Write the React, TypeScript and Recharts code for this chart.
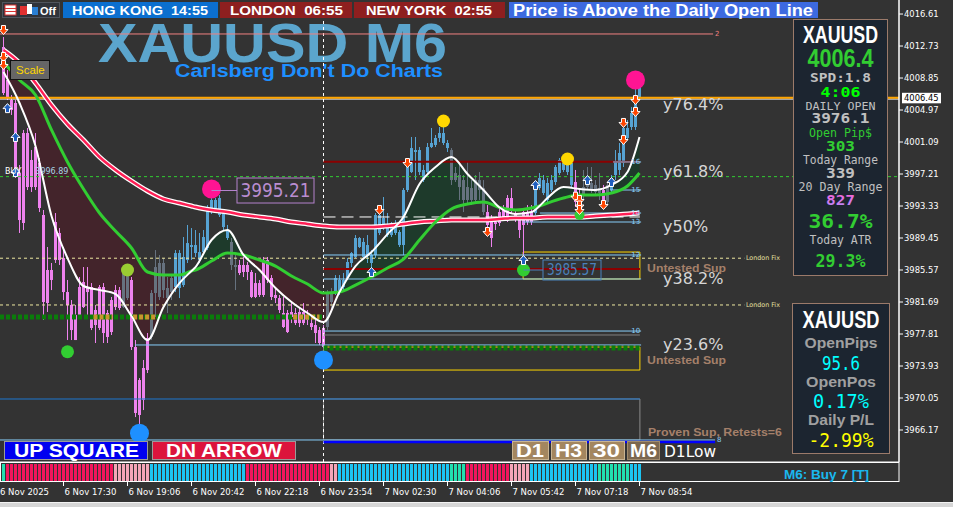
import React from 'react';
import {
  ComposedChart, BarChart, Bar, Line, Area, XAxis, YAxis,
  ReferenceLine, ReferenceDot, ReferenceArea, Cell,
} from 'recharts';

// XAUUSD M6, 160 bars: [open, high, low, close]
const ohlc: number[][] = [
  [4012.61, 4013.82, 4006.79, 4007.03], [4008.61, 4009.82, 4006.18, 4006.55], [4006.18, 4006.79, 4004.37, 4004.97], [4005.82, 4006.18, 3996.73, 3997.09],
  [3997.33, 3998.30, 3990.06, 3991.63], [3991.27, 4002.55, 3990.42, 4002.18], [4002.18, 4002.79, 3995.27, 3995.63], [3995.63, 4000.12, 3995.03, 3998.91],
  [4000.48, 4002.18, 3995.27, 3995.63], [3998.54, 3999.15, 3992.60, 3993.09], [3992.24, 3992.85, 3979.51, 3981.69], [3981.57, 3988.36, 3980.48, 3985.57],
  [3985.57, 3986.42, 3983.14, 3984.36], [3986.78, 3992.48, 3986.42, 3991.39], [3990.06, 3990.66, 3986.18, 3986.78], [3987.02, 3988.36, 3981.93, 3982.90],
  [3982.90, 3984.36, 3977.08, 3981.33], [3981.33, 3981.93, 3977.08, 3978.29], [3977.08, 3981.33, 3977.08, 3980.11], [3980.11, 3984.72, 3979.87, 3983.51],
  [3984.11, 3985.93, 3980.96, 3981.08], [3982.90, 3985.93, 3979.87, 3983.39], [3983.51, 3983.99, 3978.29, 3978.54], [3978.90, 3981.33, 3976.72, 3980.72],
  [3978.54, 3983.75, 3978.29, 3983.51], [3983.51, 3983.99, 3976.72, 3977.93], [3977.45, 3980.72, 3976.72, 3980.36], [3978.05, 3982.30, 3977.69, 3981.93],
  [3981.08, 3983.75, 3980.72, 3983.14], [3983.14, 3983.51, 3980.72, 3980.96], [3981.08, 3986.18, 3980.96, 3985.21], [3985.21, 3985.93, 3981.93, 3982.17],
  [3984.36, 3984.72, 3975.87, 3976.23], [3976.23, 3977.08, 3967.74, 3968.23], [3972.23, 3972.47, 3966.41, 3967.99], [3969.81, 3974.66, 3968.59, 3973.69],
  [3973.44, 3977.93, 3973.08, 3977.32], [3977.45, 3983.14, 3977.08, 3982.78], [3982.78, 3987.99, 3979.87, 3985.93], [3986.42, 3987.39, 3981.93, 3982.30],
  [3983.14, 3987.02, 3982.17, 3986.42], [3983.39, 3984.72, 3980.36, 3982.17], [3982.90, 3984.96, 3981.93, 3984.60], [3983.51, 3987.99, 3982.90, 3987.63],
  [3987.63, 3987.99, 3982.17, 3983.39], [3987.15, 3989.57, 3983.51, 3983.75], [3986.78, 3991.03, 3986.42, 3988.84], [3988.36, 3990.66, 3986.78, 3988.60],
  [3988.60, 3990.42, 3987.15, 3987.63], [3987.75, 3990.06, 3986.42, 3986.78], [3987.75, 3990.42, 3987.39, 3989.57], [3988.24, 3993.45, 3987.99, 3992.85],
  [3992.60, 3995.21, 3992.36, 3994.06], [3994.06, 3994.30, 3992.60, 3992.85], [3994.30, 3994.66, 3992.00, 3992.24], [3992.48, 3992.85, 3990.42, 3990.78],
  [3990.42, 3991.03, 3989.21, 3989.45], [3988.97, 3989.45, 3985.57, 3986.18], [3986.18, 3987.39, 3983.14, 3985.93], [3985.21, 3986.78, 3984.96, 3986.18],
  [3986.18, 3987.15, 3984.72, 3985.33], [3985.33, 3986.54, 3984.36, 3986.18], [3985.33, 3985.57, 3982.17, 3982.30], [3982.30, 3985.21, 3982.17, 3983.99],
  [3983.99, 3984.36, 3982.30, 3982.54], [3982.54, 3987.15, 3982.30, 3986.78], [3986.78, 3987.15, 3983.99, 3984.36], [3984.60, 3984.96, 3981.93, 3982.30],
  [3982.54, 3983.51, 3981.57, 3982.17], [3982.17, 3982.54, 3980.36, 3980.72], [3980.36, 3982.30, 3978.54, 3978.66], [3978.05, 3980.72, 3977.93, 3980.36],
  [3980.48, 3981.57, 3979.14, 3979.87], [3979.14, 3980.96, 3978.90, 3980.36], [3980.48, 3981.08, 3978.66, 3979.14], [3979.14, 3981.57, 3978.90, 3980.48],
  [3979.87, 3980.72, 3978.90, 3979.51], [3979.14, 3979.75, 3978.29, 3978.66], [3978.90, 3979.51, 3976.72, 3977.93], [3978.29, 3978.66, 3976.48, 3976.72],
  [3978.54, 3978.90, 3975.87, 3976.23], [3978.66, 3983.14, 3978.29, 3982.78], [3981.69, 3983.39, 3980.72, 3982.90], [3982.90, 3984.96, 3982.54, 3984.60],
  [3984.36, 3984.96, 3982.54, 3982.90], [3983.51, 3985.21, 3983.14, 3984.36], [3984.60, 3987.02, 3984.36, 3986.54], [3986.42, 3987.75, 3985.93, 3987.63],
  [3987.15, 3989.81, 3987.02, 3989.45], [3989.45, 3989.57, 3988.24, 3988.36], [3988.97, 3989.45, 3987.02, 3987.15], [3987.39, 3989.81, 3986.42, 3988.60],
  [3987.39, 3987.99, 3985.33, 3986.42], [3987.39, 3992.48, 3987.02, 3992.24], [3992.24, 3992.85, 3989.81, 3990.06], [3991.03, 3994.42, 3990.42, 3991.88],
  [3991.03, 3992.48, 3989.57, 3989.81], [3989.81, 3991.39, 3989.57, 3991.27], [3991.27, 3991.63, 3989.81, 3990.06], [3990.18, 3990.42, 3988.36, 3988.60],
  [3988.60, 3995.51, 3987.39, 3995.27], [3995.27, 3998.54, 3995.03, 3998.06], [3997.45, 4001.70, 3997.33, 4000.36], [4000.12, 4001.70, 3996.48, 3999.88],
  [4000.12, 4000.48, 3997.09, 3997.45], [3997.70, 3998.30, 3996.24, 3996.48], [3997.45, 4000.97, 3997.09, 4000.48], [4000.48, 4002.79, 4000.36, 4000.97],
  [4000.73, 4001.94, 4000.48, 4001.58], [4001.58, 4002.91, 4001.09, 4002.18], [4002.18, 4003.52, 4000.73, 4000.97], [4000.97, 4001.33, 3999.88, 4000.36],
  [4000.12, 4000.36, 3995.88, 3996.48], [3997.33, 3998.06, 3996.24, 3996.48], [3995.63, 3998.67, 3994.06, 3997.09], [3996.48, 3997.09, 3992.60, 3994.06],
  [3994.06, 3998.67, 3993.69, 3995.63], [3995.51, 3996.48, 3993.45, 3994.06], [3994.06, 3997.09, 3993.82, 3996.48], [3996.48, 3997.45, 3994.06, 3995.27],
  [3995.51, 3996.48, 3992.24, 3992.60], [3992.60, 3993.45, 3990.42, 3991.03], [3991.63, 3992.24, 3988.36, 3989.45], [3991.15, 3992.00, 3990.42, 3991.39],
  [3991.27, 3993.09, 3990.91, 3992.60], [3992.00, 3993.45, 3991.63, 3992.85], [3991.63, 3994.66, 3991.39, 3994.30], [3994.30, 3995.51, 3992.48, 3992.85],
  [3992.48, 3992.85, 3991.39, 3991.63], [3991.63, 3992.00, 3989.45, 3990.42], [3991.03, 3992.85, 3985.57, 3992.60], [3992.48, 3993.45, 3991.03, 3991.39],
  [3991.39, 3993.45, 3991.03, 3992.60], [3992.48, 3995.88, 3992.24, 3995.63], [3995.51, 3997.33, 3995.27, 3996.73], [3996.48, 3997.09, 3994.66, 3994.91],
  [3994.06, 3996.73, 3993.82, 3996.12], [3995.27, 3997.09, 3995.03, 3996.48], [3996.24, 3998.30, 3995.88, 3998.06], [3997.33, 3999.15, 3997.09, 3998.91],
  [3998.67, 3999.27, 3997.45, 3997.70], [3997.45, 3999.15, 3997.09, 3998.91], [3998.54, 3998.91, 3995.63, 3995.88], [3996.24, 3997.70, 3993.21, 3993.82],
  [3993.69, 3995.27, 3993.45, 3994.66], [3994.66, 3997.70, 3994.06, 3995.63], [3995.63, 3998.06, 3995.27, 3996.24], [3996.12, 3998.06, 3994.91, 3995.27],
  [3995.88, 3996.48, 3994.66, 3995.03], [3994.91, 3997.33, 3994.06, 3995.51], [3995.27, 3995.88, 3993.09, 3993.69], [3993.82, 3996.24, 3993.45, 3995.88],
  [3995.27, 3997.09, 3995.03, 3996.73], [3997.09, 4000.12, 3996.48, 3998.67], [3997.70, 4000.97, 3997.09, 3999.76], [3998.54, 4002.91, 3998.06, 4002.79],
  [4001.58, 4003.76, 4001.33, 4002.79], [4002.91, 4005.34, 4002.55, 4004.61], [4002.91, 4007.64, 4002.55, 4006.55], [4008.00, 4008.37, 4006.18, 4006.45],
];

// candle colour by trend state: p = bear, b = bull, g = neutral
const candleColorRuns: [string, number][] = [
  ['p', 30], ['g', 2], ['p', 5], ['g', 6], ['b', 14], ['g', 2], ['p', 22], ['g', 2], ['b', 29],
  ['g', 9], ['p', 12], ['b', 10], ['p', 2], ['g', 5], ['p', 1], ['g', 1], ['b', 8],
];

// bottom signal strip
const stripeRuns: [string, number][] = [
  ['t', 1], ['r', 27], ['l', 9], ['c', 24], ['r', 21], ['l', 2], ['c', 28], ['t', 4], ['r', 11], ['l', 5], ['c', 17], ['t', 8], ['c', 3],
];

// moving averages
const maIdx = [0, 4, 8, 12, 16, 20, 24, 28, 32, 36, 40, 44, 47, 48, 52, 56, 60, 64, 68, 72, 76, 80, 84, 88, 92, 96, 100, 104, 108, 112, 116, 120, 124, 128, 132, 134, 136, 140, 144, 148, 152, 156, 159];
const maWhite = [4009.58, 4005.82, 4000.61, 3992.12, 3987.02, 3983.63, 3983.14, 3982.66, 3979.99, 3977.08, 3981.08, 3983.99, 3985.45, 3985.93, 3989.21, 3990.42, 3987.39, 3985.57, 3983.39, 3981.69, 3980.36, 3979.26, 3982.90, 3986.05, 3987.75, 3989.93, 3992.00, 3996.00, 3998.06, 3999.27, 3997.21, 3995.27, 3993.15, 3992.36, 3992.60, 3993.33, 3994.30, 3995.63, 3995.39, 3995.27, 3995.88, 3997.45, 4001.70];
const maGreen = [4010.79, 4008.61, 4006.79, 4002.55, 3998.67, 3995.39, 3992.48, 3990.30, 3988.24, 3985.33, 3984.96, 3984.96, 3985.45, 3985.57, 3986.66, 3987.63, 3987.39, 3986.78, 3986.05, 3984.84, 3983.87, 3982.78, 3982.90, 3983.75, 3984.72, 3985.81, 3986.90, 3989.21, 3991.39, 3992.97, 3993.57, 3993.82, 3993.15, 3992.85, 3993.09, 3993.33, 3993.69, 3994.30, 3994.66, 3994.66, 3994.91, 3995.76, 3997.33];
const maRed = [4012.25, 4010.67, 4008.25, 4005.58, 4003.27, 4001.33, 3999.27, 3997.70, 3996.36, 3995.15, 3994.18, 3993.69, 3993.33, 3993.21, 3992.85, 3992.60, 3992.24, 3992.00, 3991.75, 3991.39, 3991.15, 3990.91, 3990.78, 3990.78, 3990.78, 3990.91, 3991.15, 3991.39, 3991.51, 3991.63, 3991.63, 3991.63, 3991.75, 3991.88, 3991.88, 3991.94, 3992.00, 3992.00, 3992.00, 3992.12, 3992.24, 3992.36, 3992.48];
const fillSpans: [number, number, string][] = [[0, 47, 'bear'], [47, 60, 'bull'], [60, 84, 'bear'], [84, 124, 'bull'], [124, 134, 'bear'], [134, 159, 'bull']];

const yTicks = [4016.61, 4012.73, 4008.85, 4004.97, 4001.09, 3997.21, 3993.33, 3989.45, 3985.57, 3981.69, 3977.81, 3973.93, 3970.05, 3966.17];
const timeTicks = [-0.875, 15, 31, 47, 63, 79, 95, 111, 127, 143, 159];
const timeLabels = ['6 Nov 2025', '6 Nov 17:30', '6 Nov 19:06', '6 Nov 20:42', '6 Nov 22:18', '6 Nov 23:54', '7 Nov 02:30', '7 Nov 04:06', '7 Nov 05:42', '7 Nov 07:18', '7 Nov 08:54'];
const bidPrice = 4006.45;
const dayStart = 80;

const levels = [
  { p: 4014.19, a: -0.875, b: 177.4, kind: 'coral', tag: '2' },
  { p: 3998.70, a: 80, b: 159.1, kind: 'darkred' },
  { p: 3985.69, a: 80, b: 159.1, kind: 'darkred' },
  { p: 3998.67, a: 152.4, b: 159.4, kind: 'sky', tag: '16' },
  { p: 3995.27, a: 151.6, b: 159.4, kind: 'sky', tag: '15' },
  { p: 3992.48, a: 134.1, b: 159.4, kind: 'sky', tag: '14' },
  { p: 3992.00, a: 80, b: 159.1, kind: 'dash' },
  { p: 3991.39, a: 129.9, b: 159.4, kind: 'sky', tag: '13' },
  { p: 3987.39, a: 80, b: 159.4, kind: 'sky', tag: '12' },
  { p: 3987.00, a: -0.875, b: 185.2, kind: 'fix' },
  { p: 3984.48, a: 80, b: 159.4, kind: 'sky' },
  { p: 3981.33, a: -0.875, b: 185.2, kind: 'fix' },
  { p: 3978.17, a: 80, b: 159.4, kind: 'sky', tag: '10' },
  { p: 3977.69, a: 80, b: 159.1, kind: 'gray' },
  { p: 3976.48, a: 32.9, b: 159.4, kind: 'sky' },
  { p: 3969.93, a: -0.875, b: 159.1, kind: 'blue' },
  { p: 3964.96, a: -0.875, b: 177.9, kind: 'sky', tag: '8' },
  { p: 3964.71, a: 80, b: 177.9, kind: 'd1low' },
  { p: 3996.89, a: -0.875, b: 223.875, kind: 'buy' },
  { p: 4006.30, a: -0.875, b: 223.875, kind: 'thinWhite' },
  { p: bidPrice, a: -0.875, b: 223.875, kind: 'bid' },
];
const dailyOpens = [
  { p: 3979.87, a: -0.875, b: 80 },
  { p: 3976.10, a: 80, b: 159.4 },
];
// stretches where price traded on yesterday's open line
const openTouches = [
  { p: 3979.87, a: 22.5, b: 27.3 },
  { p: 3979.87, a: 32.4, b: 38.4 },
  { p: 3979.87, a: 72.4, b: 79 },
];
const zones = [
  { a: 129.9, b: 159.1, p1: 3984.48, p2: 3987.75, kind: 'gold' },
  { a: 80, b: 159.1, p1: 3973.44, p2: 3976.23, kind: 'gold' },
  { a: 80, b: 159.1, p1: 3964.96, p2: 3969.93, kind: 'gray' },
];
const circles = [
  { i: 52, p: 3995.40, kind: 'pink' }, { i: 158, p: 4008.61, kind: 'pink' },
  { i: 110, p: 4003.64, kind: 'gold' }, { i: 141, p: 3999.03, kind: 'gold' },
  { i: 31, p: 3985.57, kind: 'olive' }, { i: 16, p: 3975.66, kind: 'green' },
  { i: 130, p: 3985.57, kind: 'green' }, { i: 144, p: 3992.24, kind: 'greenSmall' },
  { i: 34, p: 3965.77, kind: 'blue' }, { i: 80, p: 3974.66, kind: 'blue' },
];
const arrows = [
  { i: 0, p: 4014.67, d: 'down' }, { i: 0, p: 4011.40, d: 'down' }, { i: 0, p: 4010.43, d: 'down' },
  { i: 1, p: 4005.20, d: 'up' }, { i: 3, p: 4001.70, d: 'up' }, { i: 3, p: 3997.45, d: 'up' },
  { i: 92, p: 3985.33, d: 'up' }, { i: 94, p: 3992.85, d: 'down' }, { i: 101, p: 3998.54, d: 'down' },
  { i: 121, p: 3990.18, d: 'down' }, { i: 130, p: 3986.78, d: 'up' }, { i: 133, p: 3995.88, d: 'up' },
  { i: 143, p: 3994.46, d: 'down' }, { i: 144, p: 3994.06, d: 'down' }, { i: 144, p: 3993.39, d: 'down' },
  { i: 144, p: 3992.85, d: 'down' }, { i: 146, p: 3996.48, d: 'up' }, { i: 150, p: 3993.45, d: 'down' },
  { i: 152, p: 3996.24, d: 'up' }, { i: 155, p: 4003.40, d: 'down' }, { i: 155, p: 4001.33, d: 'down' },
  { i: 158, p: 4006.18, d: 'down' }, { i: 158, p: 4004.73, d: 'down' },
];
const priceTags = [
  { i: 52, p: 3995.21, t: '3995.21', kind: 'violet' },
  { i: 130, p: 3985.57, t: '3985.57', kind: 'steel' },
];
const fibLabels = [
  { t: 'y76.4%', p: 4005.70 }, { t: 'y61.8%', p: 3997.57 }, { t: 'y50%', p: 3990.90 },
  { t: 'y38.2%', p: 3984.60 }, { t: 'y23.6%', p: 3976.54 },
];
const zoneLabels = [
  { t: 'Untested Sup', i: 160.9, p: 3985.81, w: 79 },
  { t: 'Untested Sup', i: 160.9, p: 3974.66, w: 79 },
  { t: 'Proven Sup, Retests=6', i: 161.1, p: 3965.93, w: 134 },
];
const fixLabels = [
  { t: 'London Fix', i: 185.6, p: 3987.0 },
  { t: 'London Fix', i: 185.6, p: 3981.33 },
];

const expand = (runs: [string, number][]) => runs.flatMap(([k, n]) => Array(n).fill(k));
const candleCols = expand(candleColorRuns);
const stripeCols = expand(stripeRuns);

const candleData = ohlc.map(([o, h, l, c], i) => ({ i, o, h, l, c, range: [l, h], col: candleCols[i] }));
const stripeData = stripeCols.map((k, i) => ({ i, v: 1, k }));
const maRows = maIdx.map((i, k) => ({ i, w: maWhite[k], g: maGreen[k], r: maRed[k] }));

const CANDLE_COL: Record<string, string> = { p: '#ee82ee', b: '#56a3d3', g: '#66727f' };
const STRIPE_COL: Record<string, string> = { t: '#22e0b0', r: '#f3165c', l: '#f5a5b8', c: '#1cc4f2' };
const FILL_COL: Record<string, string> = { bear: '#43242b', bull: '#1e3a2b' };
const LEVEL_STYLE: Record<string, any> = {
  coral: { stroke: '#f08080', strokeWidth: 1 },
  darkred: { stroke: '#8b0000', strokeWidth: 2 },
  sky: { stroke: '#87cefa', strokeWidth: 1 },
  dash: { stroke: '#ffffff', strokeWidth: 1, strokeDasharray: '12 6' },
  gray: { stroke: '#808080', strokeWidth: 1 },
  blue: { stroke: '#1e78d0', strokeWidth: 1 },
  d1low: { stroke: '#0000ff', strokeWidth: 2.5 },
  fix: { stroke: '#eee8a0', strokeWidth: 1, strokeDasharray: '3 3' },
  buy: { stroke: '#32cd32', strokeWidth: 1, strokeDasharray: '3 3' },
  thinWhite: { stroke: '#ffffff', strokeWidth: 1 },
  bid: { stroke: '#ffa500', strokeWidth: 2 },
  dots: { stroke: '#0a7d0a', strokeWidth: 5, strokeDasharray: '4 2' },
  touch: { stroke: '#c8962e', strokeWidth: 5, strokeDasharray: '4 2' },
};
const CIRCLE_STYLE: Record<string, [number, string]> = {
  pink: [9.5, '#ff1493'], gold: [6.5, '#ffd700'], olive: [6.5, '#9acd32'], green: [6.5, '#32cd32'],
  greenSmall: [5, '#32cd32'], blue: [9.5, '#1e90ff'],
};

const F_SANS = '"Liberation Sans", Arial, sans-serif';
const F_DEJA = '"DejaVu Sans", sans-serif';
const F_MONO = '"DejaVu Sans Mono", monospace';

const Candle = (props: any) => {
  const { x, y, width, height, payload } = props;
  if (!payload) return <g />;
  const top = Math.min(y, y + height);
  const bot = Math.max(y, y + height);
  const k = (bot - top) / (payload.h - payload.l || 1);
  const py = (v: number) => top + (payload.h - v) * k;
  const cx = Math.floor(x + width / 2) + 0.5;
  const b1 = py(Math.max(payload.o, payload.c));
  const b2 = py(Math.min(payload.o, payload.c));
  const col = CANDLE_COL[payload.col];
  return (
    <g>
      <rect x={cx - 0.5} y={top} width={1} height={Math.max(1, bot - top)} fill={col} />
      <rect x={cx - 1.5} y={b1} width={3} height={Math.max(1, b2 - b1)} fill={col} />
    </g>
  );
};

const TimeTick = (props: any) => {
  const { x, payload } = props;
  const k = timeTicks.indexOf(payload.value);
  return (
    <g>
      {k > 0 && <line x1={x} x2={x} y1={482} y2={486} stroke="#fff" />}
      <text x={k === 0 ? 0 : x + 1} y={495} fill="#fff" fontSize={8.5} fontFamily={F_DEJA}>{timeLabels[k]}</text>
    </g>
  );
};

const ArrowMark = ({ cx, cy, d }: any) => {
  const s = d === 'down' ? 1 : -1;
  const pts = [
    [cx - 2, cy - 4.5 * s], [cx + 2, cy - 4.5 * s], [cx + 2, cy - 0.5 * s], [cx + 4.5, cy - 0.5 * s],
    [cx, cy + 4.5 * s], [cx - 4.5, cy - 0.5 * s], [cx - 2, cy - 0.5 * s],
  ].map((q) => q.join(',')).join(' ');
  return <polygon points={pts} fill={d === 'down' ? '#ff4500' : '#1f5fbf'} stroke="#fff" strokeWidth={1} />;
};

const PriceTag = ({ cx, cy, t, kind }: any) => {
  const violet = kind === 'violet';
  const col = violet ? '#b583cd' : '#4a84bd';
  const off = violet ? 25.5 : 19.5;
  const w = violet ? 77 : 58;
  const h = violet ? 25 : 20;
  return (
    <g>
      <line x1={cx} y1={cy} x2={cx + off} y2={cy} stroke={col} strokeWidth={1} />
      <rect x={cx + off} y={cy - h / 2} width={w} height={h} fill="none" stroke={col} strokeWidth={1} />
      <text x={cx + off + w / 2} y={cy} dy="0.36em" textAnchor="middle" fill={violet ? '#b98dd0' : '#4a80ba'}
        fontSize={violet ? 19 : 15} fontFamily={F_DEJA} textLength={violet ? 70 : 50} lengthAdjust="spacingAndGlyphs">{t}</text>
    </g>
  );
};

const PanelText = ({ x, y, size, fill, w, bold, font, children }: any) => (
  <text x={x} y={y} textAnchor="middle" fontSize={size} fill={fill} fontWeight={bold ? 'bold' : 'normal'}
    fontFamily={font} textLength={w} lengthAdjust="spacingAndGlyphs">{children}</text>
);

const BtnText = ({ x, y, w, size, children, bold = true }: any) => (
  <text x={x} y={y} fill="#fff" fontSize={size} fontWeight={bold ? 'bold' : 'normal'} fontFamily={F_SANS}
    textLength={w} lengthAdjust="spacingAndGlyphs">{children}</text>
);

const X_DOMAIN = [-0.875, 223.875];

export default function App() {
  return (
    <div style={{ position: 'fixed', left: 0, top: 0, width: 953, height: 507, background: '#333333', overflow: 'hidden' }}>
      <style>{'body{margin:0;background:#333;}'}</style>

      {/* chart watermark title, behind the price chart */}
      <svg width={953} height={507} style={{ position: 'absolute', left: 0, top: 0 }}>
        <text x={98} y={62} fontSize={56} fontWeight="bold" fill="#5ba5cd" fontFamily={F_SANS} textLength={349} lengthAdjust="spacingAndGlyphs">XAUUSD M6</text>
        <text x={175} y={77} fontSize={18} fontWeight="bold" fill="#1e8fff" fontFamily={F_SANS} textLength={268} lengthAdjust="spacingAndGlyphs">Carlsberg Don't Do Charts</text>
      </svg>

      <div style={{ position: 'absolute', left: 0, top: 0 }}>
        <ComposedChart width={953} height={507} data={candleData} margin={{ top: 0, right: 0, bottom: 0, left: 0 }}>
          <XAxis dataKey="i" type="number" domain={X_DOMAIN} allowDataOverflow ticks={timeTicks} interval={0}
            height={45} axisLine={{ stroke: '#fff' }} tickLine={false} tick={(p: any) => <TimeTick {...p} />} />
          <YAxis orientation="right" width={54} type="number" domain={[3962.29, 4018.31]} allowDataOverflow
            ticks={yTicks} interval={0} tickSize={4} tickMargin={1}
            axisLine={{ stroke: '#fff', strokeWidth: 1.5 }} tickLine={{ stroke: '#fff' }}
            tick={{ fill: '#fff', fontSize: 8.4, fontFamily: F_DEJA }} tickFormatter={(v: number) => v.toFixed(2)} />

          {fillSpans.map(([a, b, kind], k) => (
            <Area key={`f${k}`} data={maRows.filter((r) => r.i >= a && r.i <= b)} dataKey={(r: any) => [r.g, r.w]}
              type="monotone" fill={FILL_COL[kind]} fillOpacity={1} stroke="none" dot={false} activeDot={false}
              isAnimationActive={false} />
          ))}

          <ReferenceLine x={dayStart} stroke="#fff" strokeDasharray="3 3" ifOverflow="visible" />

          {levels.map((lv, k) => (
            <ReferenceLine key={`l${k}`} segment={[{ x: lv.a, y: lv.p }, { x: lv.b, y: lv.p }]} ifOverflow="visible"
              {...LEVEL_STYLE[lv.kind]}
              label={lv.kind === 'bid' ? (p: any) => {
                const vb = p.viewBox || {};
                const y = vb.y ?? 0;
                return (
                  <g>
                    <rect x={902} y={y - 5} width={39} height={10.5} fill="#fff" />
                    <text x={904} y={y + 3.2} fontSize={8.4} fill="#000" fontFamily={F_DEJA}>{bidPrice.toFixed(2)}</text>
                  </g>
                );
              } : undefined} />
          ))}

          {zones.map((z, k) => (
            <ReferenceArea key={`z${k}`} x1={z.a} x2={z.b} y1={z.p1} y2={z.p2} fill="none"
              stroke={z.kind === 'gold' ? '#ffd700' : '#8a8a8a'} strokeWidth={1} ifOverflow="visible" />
          ))}

          <Bar dataKey="range" barSize={3} isAnimationActive={false} shape={(p: any) => <Candle {...p} />} />

          {dailyOpens.map((lv, k) => (
            <ReferenceLine key={`o${k}`} segment={[{ x: lv.a, y: lv.p }, { x: lv.b, y: lv.p }]} ifOverflow="visible" {...LEVEL_STYLE.dots} />
          ))}
          {openTouches.map((lv, k) => (
            <ReferenceLine key={`ot${k}`} segment={[{ x: lv.a, y: lv.p }, { x: lv.b, y: lv.p }]} ifOverflow="visible" {...LEVEL_STYLE.touch} />
          ))}

          <Line data={maRows} dataKey="r" type="monotone" stroke="#ffffff" strokeWidth={5} dot={false} activeDot={false} isAnimationActive={false} />
          <Line data={maRows} dataKey="r" type="monotone" stroke="#ff1f55" strokeWidth={2.5} dot={false} activeDot={false} isAnimationActive={false} />
          <Line data={maRows} dataKey="g" type="monotone" stroke="#32cd32" strokeWidth={3} dot={false} activeDot={false} isAnimationActive={false} />
          <Line data={maRows} dataKey="w" type="monotone" stroke="#ffffff" strokeWidth={2} dot={false} activeDot={false} isAnimationActive={false} />

          {levels.filter((lv) => lv.tag).map((lv, k) => (
            <ReferenceDot key={`t${k}`} x={lv.b} y={lv.p} r={0} ifOverflow="visible"
              shape={(p: any) => (
                <text x={lv.b > 170 ? p.cx + 2 : p.cx - 1} y={p.cy} dy="0.35em" textAnchor={lv.b > 170 ? 'start' : 'end'}
                  fontSize={7} fontFamily={F_DEJA} fill={lv.kind === 'coral' ? '#f08080' : '#87cefa'}>{lv.tag}</text>
              )} />
          ))}

          {circles.map((c, k) => (
            <ReferenceDot key={`c${k}`} x={c.i} y={c.p} r={CIRCLE_STYLE[c.kind][0]} fill={CIRCLE_STYLE[c.kind][1]} stroke="none" ifOverflow="visible" />
          ))}

          {arrows.map((a, k) => (
            <ReferenceDot key={`a${k}`} x={a.i} y={a.p} r={4} ifOverflow="visible" shape={(p: any) => <ArrowMark cx={p.cx} cy={p.cy} d={a.d} />} />
          ))}

          {priceTags.map((t, k) => (
            <ReferenceDot key={`pt${k}`} x={t.i} y={t.p} r={0} ifOverflow="visible" shape={(p: any) => <PriceTag cx={p.cx} cy={p.cy} t={t.t} kind={t.kind} />} />
          ))}

          {fibLabels.map((f, k) => (
            <ReferenceDot key={`fb${k}`} x={164.9} y={f.p} r={0} ifOverflow="visible"
              shape={(p: any) => <text x={p.cx} y={p.cy} dy="0.35em" fontSize={16} fill="#d6d6d6" fontFamily={F_DEJA}>{f.t}</text>} />
          ))}

          {zoneLabels.map((z, k) => (
            <ReferenceDot key={`zl${k}`} x={z.i} y={z.p} r={0} ifOverflow="visible"
              shape={(p: any) => (
                <text x={p.cx} y={p.cy} dy="0.35em" fontSize={11.5} fontWeight="bold" fill="#a5806a" fontFamily={F_SANS}
                  textLength={z.w} lengthAdjust="spacingAndGlyphs">{z.t}</text>
              )} />
          ))}

          {fixLabels.map((f, k) => (
            <ReferenceDot key={`fx${k}`} x={f.i} y={f.p} r={0} ifOverflow="visible"
              shape={(p: any) => (
                <text x={p.cx} y={p.cy} dy="0.35em" fontSize={6.5} fill="#e6e0a0" fontFamily={F_DEJA}
                  textLength={34} lengthAdjust="spacingAndGlyphs">{f.t}</text>
              )} />
          ))}

          <ReferenceDot x={0.4} y={3997.57} r={0} ifOverflow="visible"
            shape={(p: any) => (
              <text x={p.cx} y={p.cy} dy="0.35em" fontSize={8} fontFamily={F_DEJA}>
                <tspan fill="#ffffff">BUY</tspan>
                <tspan fill="#a8d4e6" dx={14}>3996.89</tspan>
              </text>
            )} />
        </ComposedChart>
      </div>

      {/* signal strip under the price chart */}
      <div style={{ position: 'absolute', left: 0, top: 464 }}>
        <BarChart width={899} height={17} data={stripeData} margin={{ top: 0, right: 0, bottom: 0, left: 0 }} barCategoryGap={0}>
          <XAxis dataKey="i" type="number" domain={X_DOMAIN} allowDataOverflow hide />
          <YAxis type="number" domain={[0, 1]} hide />
          <Bar dataKey="v" barSize={3} isAnimationActive={false}
            shape={(p: any) => <rect x={Math.floor(p.x + p.width / 2) - 1} y={p.y} width={3} height={p.height} fill={STRIPE_COL[p.payload.k]} />}>
            {stripeData.map((d) => <Cell key={d.i} fill={STRIPE_COL[d.k]} />)}
          </Bar>
        </BarChart>
      </div>

      {/* terminal overlays */}
      <svg width={953} height={507} style={{ position: 'absolute', left: 0, top: 0, pointerEvents: 'none' }}>
        {/* session banner */}
        <rect x={2.5} y={2.5} width={57} height={15} fill="#2f333b" stroke="#50555e" />
        <rect x={5} y={5} width={11} height={10} fill="#fff" stroke="#d33" />
        <line x1={5} y1={8.5} x2={16} y2={8.5} stroke="#d33" />
        <line x1={5} y1={11.5} x2={16} y2={11.5} stroke="#d33" />
        <rect x={20} y={6} width={7} height={9} fill="#e03030" />
        <rect x={27} y={4} width={5} height={10} fill="#fff" />
        <rect x={32} y={7} width={6} height={8} fill="#2a7fd4" />
        <text x={40} y={14.5} fill="#fff" fontSize={11} fontWeight="bold" fontFamily={F_SANS}>Off</text>

        <rect x={63} y={2} width={155} height={16} fill="#0b6fcf" />
        <BtnText x={72} y={14.5} w={136} size={13}>HONG KONG{'\u00a0\u00a0'}14:55</BtnText>
        <rect x={220} y={2} width={132} height={16} fill="#8e1f1f" />
        <BtnText x={230} y={14.5} w={113} size={13}>LONDON{'\u00a0\u00a0'}06:55</BtnText>
        <rect x={354} y={2} width={151} height={16} fill="#8e1f1f" />
        <BtnText x={366} y={14.5} w={126} size={13}>NEW YORK{'\u00a0\u00a0'}02:55</BtnText>
        <rect x={509} y={2} width={309} height={16} fill="#3d6ae0" />
        <BtnText x={513} y={16} w={300} size={16}>Price is Above the Daily Open Line</BtnText>

        {/* scale button */}
        <rect x={10.5} y={60.5} width={39} height={19} fill="#666" stroke="#111" />
        <text x={16} y={74} fill="#ffd700" fontSize={11.5} fontFamily={F_SANS}>Scale</text>

        {/* market info panel */}
        <rect x={793.5} y={19.5} width={94} height={256} fill="#1c2530" stroke="#9b7a6a" />
        <PanelText x={840.5} y={43} size={24} fill="#fff" w={75} bold font={F_SANS}>XAUUSD</PanelText>
        <PanelText x={840.5} y={67} size={25} fill="#32cd32" w={66} bold font={F_SANS}>4006.4</PanelText>
        <PanelText x={840.5} y={82} size={13} fill="#c0c0c0" w={61} bold font={F_MONO}>SPD:1.8</PanelText>
        <PanelText x={840.5} y={97} size={14} fill="#00ff00" w={40} bold font={F_MONO}>4:06</PanelText>
        <PanelText x={840.5} y={109.5} size={10.5} fill="#c0c0c0" w={70} font={F_MONO}>DAILY OPEN</PanelText>
        <PanelText x={840.5} y={123} size={14} fill="#c0c0c0" w={58} bold font={F_MONO}>3976.1</PanelText>
        <PanelText x={840.5} y={137} size={11.5} fill="#32cd32" w={63} font={F_MONO}>Open Pip$</PanelText>
        <PanelText x={840.5} y={151} size={14} fill="#32cd32" w={29} bold font={F_MONO}>303</PanelText>
        <PanelText x={840.5} y={163.5} size={11.5} fill="#c0c0c0" w={75} font={F_MONO}>Today Range</PanelText>
        <PanelText x={840.5} y={178} size={14} fill="#c0c0c0" w={29} bold font={F_MONO}>339</PanelText>
        <PanelText x={840.5} y={190.5} size={11.5} fill="#c0c0c0" w={84} font={F_MONO}>20 Day Range</PanelText>
        <defs>
          <linearGradient id="g827" x1="0" y1="0" x2="0" y2="1">
            <stop offset="0" stopColor="#ff5fd0" />
            <stop offset="1" stopColor="#b08cff" />
          </linearGradient>
        </defs>
        <PanelText x={840.5} y={205} size={14} fill="url(#g827)" w={29} bold font={F_MONO}>827</PanelText>
        <PanelText x={840.5} y={228} size={20} fill="#32cd32" w={64} bold font={F_MONO}>36.7%</PanelText>
        <PanelText x={840.5} y={244} size={11.5} fill="#c0c0c0" w={62} font={F_MONO}>Today ATR</PanelText>
        <PanelText x={840.5} y={267} size={17} fill="#32cd32" w={50} bold font={F_MONO}>29.3%</PanelText>

        {/* account panel */}
        <rect x={792.5} y={303.5} width={97} height={150} fill="#1c2530" stroke="#9b7a6a" />
        <PanelText x={841} y={328} size={24} fill="#fff" w={77} bold font={F_SANS}>XAUUSD</PanelText>
        <PanelText x={841} y={348} size={15.5} fill="#a0a0a0" w={73} bold font={F_SANS}>OpenPips</PanelText>
        <PanelText x={841} y={370} size={20} fill="#00ffff" w={38} font={F_MONO}>95.6</PanelText>
        <PanelText x={841} y={387} size={15.5} fill="#a0a0a0" w={70} bold font={F_SANS}>OpenPos</PanelText>
        <PanelText x={841} y={408} size={20} fill="#00ffff" w={56} font={F_MONO}>0.17%</PanelText>
        <PanelText x={841} y={425} size={15.5} fill="#a0a0a0" w={66} bold font={F_SANS}>Daily P/L</PanelText>
        <PanelText x={841} y={447} size={20} fill="#ffff00" w={65} font={F_MONO}>-2.99%</PanelText>

        {/* bottom buttons */}
        <rect x={4.5} y={441.5} width={143} height={18} fill="#0000f0" stroke="#9a9a9a" />
        <BtnText x={14} y={457} w={125} size={18}>UP SQUARE</BtnText>
        <rect x={152.5} y={441.5} width={143} height={18} fill="#dc143c" stroke="#9a9a9a" />
        <BtnText x={166} y={457} w={116} size={18}>DN ARROW</BtnText>
        <rect x={512.5} y={441.5} width={36} height={18} fill="#a3865f" stroke="#c8b392" />
        <BtnText x={516} y={457} w={28} size={18}>D1</BtnText>
        <rect x={551.5} y={441.5} width={35} height={18} fill="#a3865f" stroke="#c8b392" />
        <BtnText x={555} y={457} w={27} size={18}>H3</BtnText>
        <rect x={589.5} y={441.5} width={35} height={18} fill="#a3865f" stroke="#c8b392" />
        <BtnText x={593} y={457} w={27} size={18}>30</BtnText>
        <rect x={627.5} y={441.5} width={32} height={18} fill="#7b6750" stroke="#a08a6c" />
        <BtnText x={630} y={457} w={27} size={18}>M6</BtnText>
        <text x={664} y={457} fill="#fff" fontSize={16} fontFamily={F_DEJA} textLength={52} lengthAdjust="spacingAndGlyphs">D1Low</text>

        {/* signal strip frame */}
        <rect x={0.5} y={462.5} width={898.5} height={19} fill="none" stroke="#fff" />
        <text x={784} y={479} fill="#1ab8ee" fontSize={13} fontWeight="bold" fontFamily={F_SANS} textLength={85} lengthAdjust="spacingAndGlyphs">M6: Buy 7 [T]</text>

        {/* window bottom edge */}
        <rect x={0} y={502} width={953} height={5} fill="#d6d6d6" />
        <line x1={0} y1={502.5} x2={953} y2={502.5} stroke="#f2f2f2" />
      </svg>
    </div>
  );
}
